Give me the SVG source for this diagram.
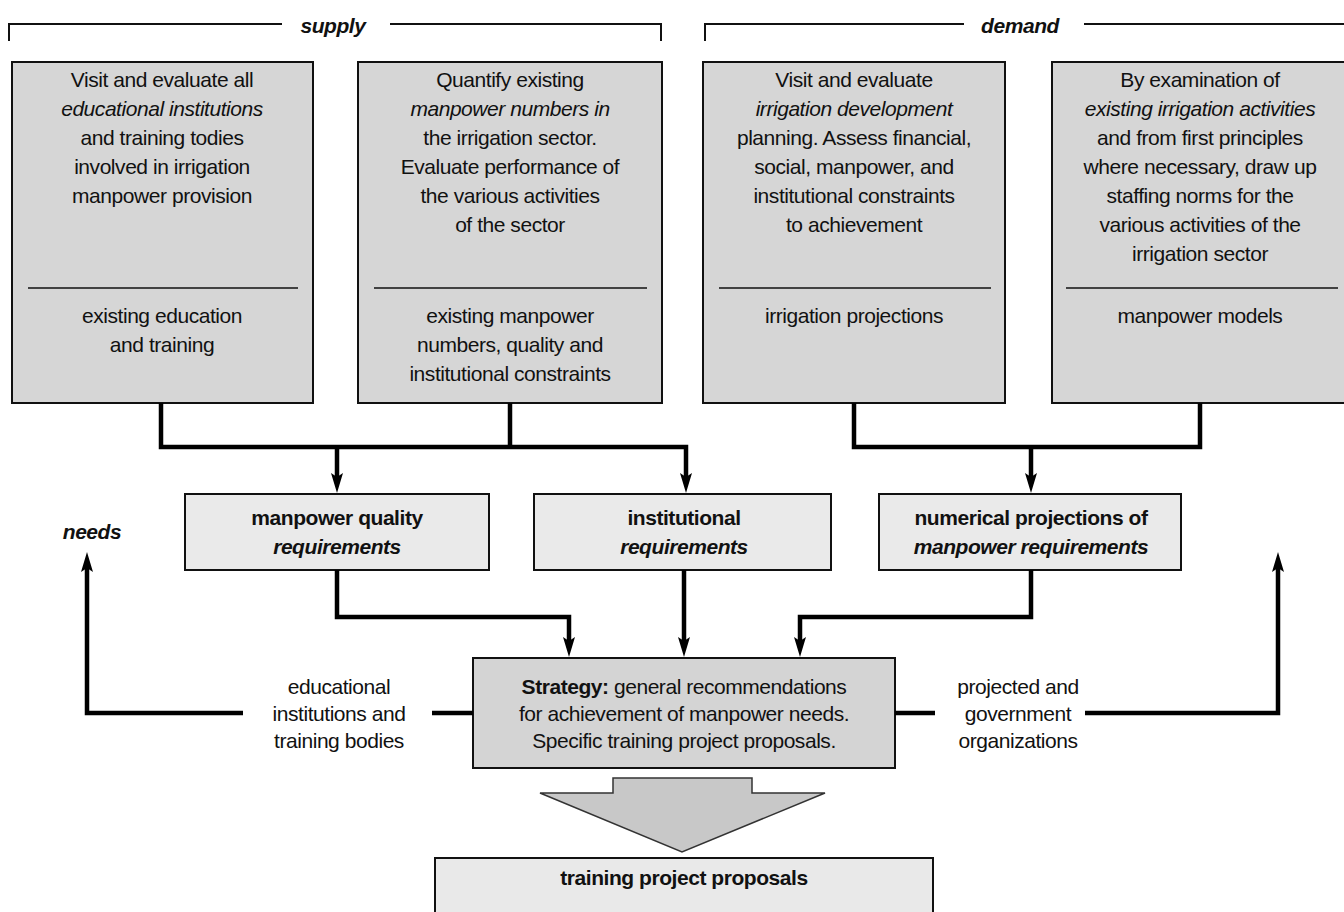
<svg xmlns="http://www.w3.org/2000/svg" width="1344" height="912" viewBox="0 0 1344 912">
<defs>
<marker id="ah" markerUnits="userSpaceOnUse" viewBox="0 0 20 12" markerWidth="20" markerHeight="12" refX="6" refY="6" orient="auto">
<path d="M0,0 L20,6 L0,12 L4,6 z" fill="#000"/>
</marker>
</defs>
<style>
text{font-family:"Liberation Sans",Arial,Helvetica,sans-serif;font-size:21px;letter-spacing:-0.45px;fill:#111;text-anchor:middle}
.b{font-weight:bold}
.i{font-style:italic}
.bi{font-weight:bold;font-style:italic}
.top{fill:#d6d6d6;stroke:#111;stroke-width:2}
.mid{fill:#eaeaea;stroke:#111;stroke-width:2}
.strat{fill:#d4d4d4;stroke:#111;stroke-width:2}
.bot{fill:#e9e9e9;stroke:#111;stroke-width:2}
.div{stroke:#111;stroke-width:1.6}
.br{fill:none;stroke:#111;stroke-width:2}
.c{fill:none;stroke:#000;stroke-width:4.5;stroke-linejoin:miter}
.ca{fill:none;stroke:#000;stroke-width:4.5;marker-end:url(#ah)}
</style>
<rect width="1344" height="912" fill="#fff"/>

<g id="bracket-supply">
<path class="br" d="M9,41 V24 H282"/>
<path class="br" d="M390,24 H661 V41"/>
<text class="bi" x="333" y="33">supply</text>
</g>
<g id="bracket-demand">
<path class="br" d="M705,41 V24 H964"/>
<path class="br" d="M1084,24 H1344"/>
<text class="bi" x="1020" y="33">demand</text>
</g>

<g id="box-education">
<rect class="top" x="12" y="62" width="301" height="341"/>
<line class="div" x1="28" y1="288" x2="298" y2="288"/>
<text x="162" y="87">Visit and evaluate all</text>
<text class="i" x="162" y="116">educational institutions</text>
<text x="162" y="145">and training todies</text>
<text x="162" y="174">involved in irrigation</text>
<text x="162" y="203">manpower provision</text>
<text x="162" y="323">existing education</text>
<text x="162" y="352">and training</text>
</g>

<g id="box-manpower">
<rect class="top" x="358" y="62" width="304" height="341"/>
<line class="div" x1="374" y1="288" x2="647" y2="288"/>
<text x="510" y="87">Quantify existing</text>
<text class="i" x="510" y="116">manpower numbers in</text>
<text x="510" y="145">the irrigation sector.</text>
<text x="510" y="174">Evaluate performance of</text>
<text x="510" y="203">the various activities</text>
<text x="510" y="232">of the sector</text>
<text x="510" y="323">existing manpower</text>
<text x="510" y="352">numbers, quality and</text>
<text x="510" y="381">institutional constraints</text>
</g>

<g id="box-irrigation">
<rect class="top" x="703" y="62" width="302" height="341"/>
<line class="div" x1="719" y1="288" x2="991" y2="288"/>
<text x="854" y="87">Visit and evaluate</text>
<text class="i" x="854" y="116">irrigation development</text>
<text x="854" y="145">planning. Assess financial,</text>
<text x="854" y="174">social, manpower, and</text>
<text x="854" y="203">institutional constraints</text>
<text x="854" y="232">to achievement</text>
<text x="854" y="323">irrigation projections</text>
</g>

<g id="box-models">
<rect class="top" x="1052" y="62" width="300" height="341"/>
<line class="div" x1="1066" y1="288" x2="1338" y2="288"/>
<text x="1200" y="87">By examination of</text>
<text class="i" x="1200" y="116">existing irrigation activities</text>
<text x="1200" y="145">and from first principles</text>
<text x="1200" y="174">where necessary, draw up</text>
<text x="1200" y="203">staffing norms for the</text>
<text x="1200" y="232">various activities of the</text>
<text x="1200" y="261">irrigation sector</text>
<text x="1200" y="323">manpower models</text>
</g>

<g id="box-quality">
<rect class="mid" x="185" y="494" width="304" height="76"/>
<text class="b" x="337" y="525">manpower quality</text>
<text class="bi" x="337" y="554">requirements</text>
</g>
<g id="box-institutional">
<rect class="mid" x="534" y="494" width="297" height="76"/>
<text class="b" x="684" y="525">institutional</text>
<text class="bi" x="684" y="554">requirements</text>
</g>
<g id="box-numerical">
<rect class="mid" x="879" y="494" width="302" height="76"/>
<text class="b" x="1031" y="525">numerical projections of</text>
<text class="bi" x="1031" y="554">manpower requirements</text>
</g>

<g id="label-needs">
<text class="bi" x="92" y="539">needs</text>
</g>

<g id="box-strategy">
<rect class="strat" x="473" y="658" width="422" height="110"/>
<text x="684" y="694"><tspan class="b">Strategy:</tspan> general recommendations</text>
<text x="684" y="721">for achievement of manpower needs.</text>
<text x="684" y="748">Specific training project proposals.</text>
</g>

<g id="label-educational">
<text x="339" y="694">educational</text>
<text x="339" y="721">institutions and</text>
<text x="339" y="748">training bodies</text>
</g>
<g id="label-projected">
<text x="1018" y="694">projected and</text>
<text x="1018" y="721">government</text>
<text x="1018" y="748">organizations</text>
</g>

<g id="block-arrow">
<polygon points="613,778 752,778 752,793 825,793 682,852 540,793 613,793" fill="#c8c8c8" stroke="#333" stroke-width="1.5"/>
</g>

<g id="box-proposals">
<rect class="bot" x="435" y="858" width="498" height="60"/>
<text class="b" x="684" y="885">training project proposals</text>
</g>

<g id="connectors">
<path class="ca" d="M161,403 V447 H686 V479"/>
<path class="c" d="M510,403 V447"/>
<path class="ca" d="M337,447 V479"/>
<path class="c" d="M854,403 V447 H1200 V403"/>
<path class="ca" d="M1031,447 V479"/>
<path class="ca" d="M337,570 V617 H569 V643"/>
<path class="ca" d="M684,570 V643"/>
<path class="ca" d="M1031,570 V617 H800 V643"/>
<path class="c" d="M473,713 H432"/>
<path class="ca" d="M243,713 H87 V566"/>
<path class="c" d="M895,713 H935"/>
<path class="ca" d="M1085,713 H1278 V566"/>
</g>
</svg>
